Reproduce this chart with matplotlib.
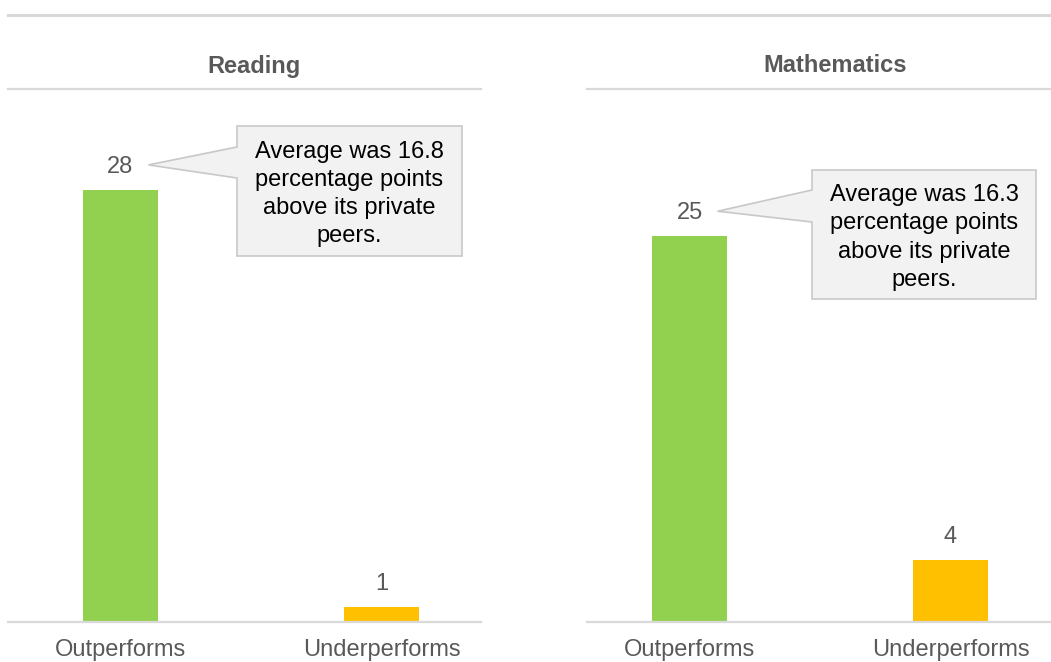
import matplotlib.pyplot as plt
from matplotlib.patches import Polygon
from matplotlib.lines import Line2D

# ---------------------------
# Data
# ---------------------------
SUBJECTS = ["Reading", "Mathematics"]
CATEGORIES = ["Outperforms", "Underperforms"]
READING_VALUES = [28, 1]
MATH_VALUES = [25, 4]
CALLOUT_TEXTS = [
    "Average was 16.8\npercentage points\nabove its private\npeers.",
    "Average was 16.3\npercentage points\nabove its private\npeers.",
]

BAR_COLORS = ["#92d050", "#ffc000"]
TEXT_GRAY = "#595959"
LINE_GRAY = "#d9d9d9"
FONT = ["Liberation Sans", "DejaVu Sans"]

W, H = 1051, 662
plt.rcParams["font.family"] = FONT

fig = plt.figure(figsize=(W / 100, H / 100), dpi=100)


def px_axes(x0, y0, x1, y1):
    # pixel box (top-left origin) -> figure fraction rect
    return [x0 / W, (H - y1) / H, (x1 - x0) / W, (y1 - y0) / H]


def px_to_fig(x, y):
    return (x / W, (H - y) / H)


panels = [
    dict(rect=px_axes(8, 89, 481, 622), xlim=(-0.43, 1.379), values=READING_VALUES,
         title_x=254, box=(237, 126, 462, 256), base=(147, 178)),
    dict(rect=px_axes(587, 89, 1051, 622), xlim=(-0.393, 1.385), values=MATH_VALUES,
         title_x=835, box=(812, 170, 1036, 299), base=(190, 222)),
]

# rule across the top
fig.add_artist(Line2D([8 / W, 1.0], [(H - 15) / H] * 2, color=LINE_GRAY, lw=2.2,
                      transform=fig.transFigure))

for subject, p, note in zip(SUBJECTS, panels, CALLOUT_TEXTS):
    ax = fig.add_axes(p["rect"])
    xs = range(len(CATEGORIES))
    ax.bar(xs, p["values"], width=0.287, color=BAR_COLORS)
    ax.set_xlim(*p["xlim"])
    ax.set_ylim(0, 34.54)
    ax.set_yticks([])
    ax.set_xticks(list(xs))
    ax.set_xticklabels(CATEGORIES, fontsize=17, color=TEXT_GRAY)
    ax.tick_params(axis="x", length=0, pad=12)
    for side in ["left", "right"]:
        ax.spines[side].set_visible(False)
    for side in ["top", "bottom"]:
        ax.spines[side].set_color(LINE_GRAY)
        ax.spines[side].set_linewidth(1.6)

    for x, v in zip(xs, p["values"]):
        ax.annotate(str(v), (x, v), xytext=(0, 16.5), textcoords="offset points",
                    ha="center", va="center", fontsize=17, color=TEXT_GRAY)

    x0t, y0t = px_to_fig(p["title_x"], 66)
    fig.text(x0t, y0t, subject, ha="center", va="center", fontsize=17,
             fontweight="bold", color=TEXT_GRAY)

    # callout box with a pointer toward the first value label
    fig.canvas.draw()
    tip_disp = ax.transData.transform((0, p["values"][0]))
    tip_x = tip_disp[0] + 28
    tip_y = H - tip_disp[1] - 25
    bx0, by0, bx1, by1 = p["box"]
    pts = [(bx0, by0), (bx1, by0), (bx1, by1), (bx0, by1),
           (bx0, p["base"][1]), (tip_x, tip_y), (bx0, p["base"][0])]
    poly = Polygon([px_to_fig(*pt) for pt in pts], closed=True,
                   facecolor="#f2f2f2", edgecolor="#c8c8c8", lw=1.2,
                   transform=fig.transFigure)
    fig.add_artist(poly)
    cx, cy = px_to_fig((bx0 + bx1) / 2, (by0 + by1) / 2 + 3)
    fig.text(cx, cy, note, ha="center", va="center", fontsize=17,
             color="black", linespacing=1.36)

fig.savefig("out.png", dpi=100)
